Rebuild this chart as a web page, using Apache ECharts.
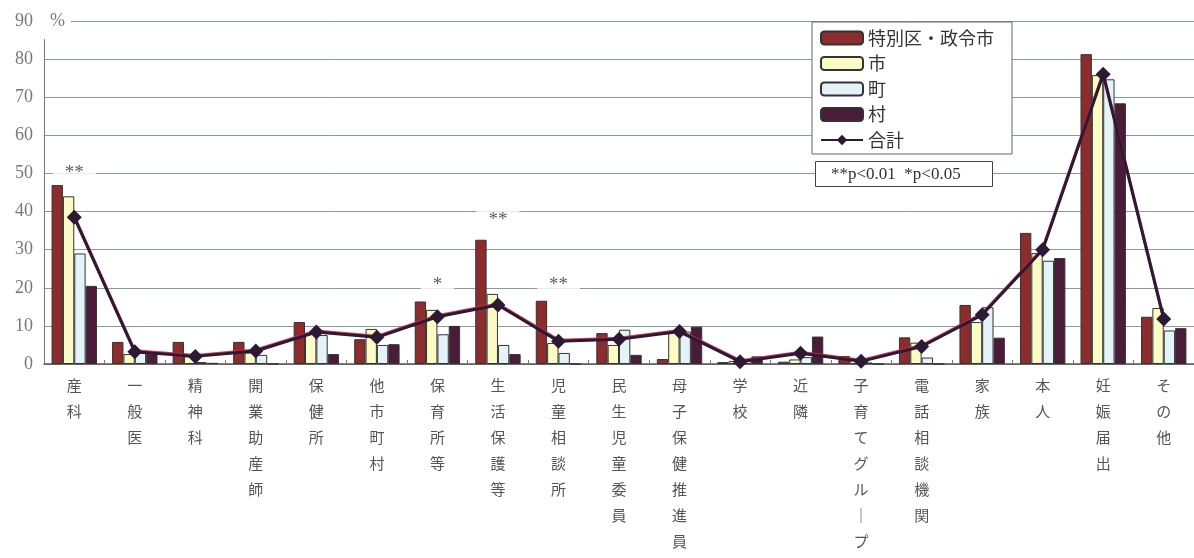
<!DOCTYPE html>
<html>
<head>
<meta charset="utf-8">
<script src="https://cdn.jsdelivr.net/npm/echarts@6/dist/echarts.min.js"></script>
<style>
html,body{margin:0;padding:0;background:#fff;}
#chart{width:1194px;height:558px;}
</style>
</head>
<body>
<div id="chart"></div>
<script>
const categories = ['産科','一般医','精神科','開業助産師','保健所','他市町村','保育所等','生活保護等','児童相談所','民生児童委員','母子保健推進員','学校','近隣','子育てグループ等','電話相談機関','家族','本人','妊娠届出','その他'];
const seriesNames = ['特別区・政令市','市','町','村','合計'];
const tokubetsu = [47.0, 5.8, 5.8, 5.8, 11.0, 6.5, 16.4, 32.6, 16.6, 8.1, 1.3, 0.5, 0.6, 2.1, 7.0, 15.5, 34.4, 81.3, 12.4];
const shi       = [44.0, 2.6, 2.0, 3.0, 8.2, 9.2, 14.2, 18.4, 5.5, 5.0, 8.7, 0.8, 1.2, 1.3, 5.6, 11.0, 29.1, 75.8, 14.7];
const cho       = [29.0, 2.9, 0.5, 2.4, 7.6, 5.0, 7.8, 5.0, 2.9, 9.0, 8.5, 1.0, 1.8, 0.4, 1.7, 14.9, 27.1, 74.7, 8.8];
const son       = [20.5, 2.7, 0.3, 0.0, 2.6, 5.2, 10.0, 2.6, 0.0, 2.4, 9.8, 2.0, 7.2, 0.0, 0.0, 6.9, 27.8, 68.4, 9.4];
const total     = [38.5, 3.2, 2.0, 3.4, 8.4, 7.0, 12.4, 15.5, 6.0, 6.5, 8.5, 0.6, 2.8, 0.7, 4.6, 12.9, 30.0, 76.0, 11.8];
const sigCategories = ['産科','保育所等','生活保護等','児童相談所'];
const sigMarks = ['**','*','**','**'];
const sigLevels = [50, 20.8, 37.9, 20.8];
const yTicks = [0,10,20,30,40,50,60,70,80,90];
const noteText = '**p<0.01  *p<0.05';
const unitText = '%';

const chart = echarts.init(document.getElementById('chart'), null, {renderer:'canvas'});
const barColors = ['#8c2c2d','#fbfbc6','#e3f3f8','#4a1c3a'];
const barData = [tokubetsu, shi, cho, son];
const serif = '"Liberation Serif","DejaVu Serif",serif';
const jp = '"Noto Sans CJK JP","Noto Sans CJK SC",sans-serif';

const series = barData.map((d,i)=>({
  name: seriesNames[i],
  type: 'bar',
  data: d,
  barGap: '0%',
  barCategoryGap: '25%',
  itemStyle: {color: barColors[i], borderColor: '#333', borderWidth: 1},
  z: 2
}));
series.push({
  name: seriesNames[4],
  type: 'line',
  data: total,
  symbol: 'diamond',
  symbolSize: 15,
  itemStyle: {color: '#2c1934'},
  lineStyle: {color: '#2c1934', width: 3, shadowColor: 'rgba(210,40,70,0.9)', shadowOffsetY: -1, shadowBlur: 0},
  z: 5
});
series.push({
  type: 'scatter',
  data: sigCategories.map((c,i)=>[c, sigLevels[i], sigMarks[i]]),
  symbolSize: 1,
  itemStyle: {color: 'rgba(0,0,0,0)'},
  label: {
    show: true, position: 'inside',
    formatter: p => p.data[2],
    color: '#333', fontSize: 19, fontFamily: serif,
    backgroundColor: '#fff', padding: [4, 12, 0, 12]
  },
  z: 6, silent: true
});

chart.setOption({
  animation: false,
  backgroundColor: '#fff',
  grid: {left: 44, right: 0, top: 21, bottom: 194, containLabel: false, outerBoundsMode: 'none'},
  title: {
    text: noteText, left: 815, top: 161,
    borderColor: '#444', borderWidth: 1, padding: [5, 32, 4, 16],
    backgroundColor: '#fff',
    textStyle: {fontSize: 17, fontWeight: 'normal', fontFamily: serif, color: '#333'}
  },
  legend: {
    data: seriesNames,
    orient: 'vertical', left: 812, top: 22,
    backgroundColor: '#fff', borderColor: '#666', borderWidth: 1,
    padding: [7, 18, 5, 8],
    itemWidth: 42, itemHeight: 13, itemGap: 7.5,
    textStyle: {fontSize: 18, fontFamily: jp, color: '#333'}
  },
  xAxis: {
    type: 'category', data: categories,
    axisLine: {lineStyle: {color: '#555', width: 1.5}},
    axisTick: {show: true, inside: true, length: 4, alignWithLabel: false, lineStyle: {color: '#777'}},
    axisLabel: {
      interval: 0, margin: 8, color: '#555', fontSize: 15, fontFamily: jp, lineHeight: 26,
      verticalAlign: 'top',
      formatter: v => Array.from(v).map(ch => ch === 'ー' ? '｜' : ch).join('\n')
    }
  },
  yAxis: {
    type: 'value', min: 0, max: 90, interval: 10,
    axisLine: {show: true, lineStyle: {color: '#777'}},
    axisTick: {show: false},
    splitLine: {lineStyle: {color: '#8a9a9c', width: 1}},
    axisLabel: {
      color: '#777', fontSize: 18, fontFamily: serif, margin: 11,
      formatter: v => yTicks.includes(v) ? String(v) : ''
    }
  },
  graphic: [
    {type: 'rect', left: 39, top: 10, shape: {width: 32, height: 29}, style: {fill: '#fff'}, z: 100},
    {type: 'text', left: 50, top: 12, style: {text: unitText, fill: '#777', font: '18px ' + serif}, z: 101}
  ],
  series: series
});
</script>
</body>
</html>
